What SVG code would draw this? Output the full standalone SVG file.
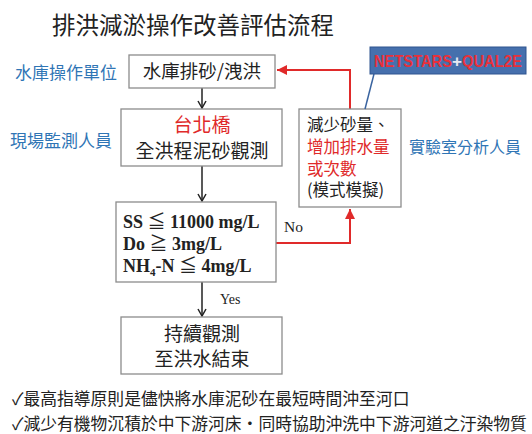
<svg xmlns="http://www.w3.org/2000/svg" width="532" height="434" viewBox="0 0 532 434">
<defs>
<style>
.cjk{font-family:"Noto Sans CJK TC","Noto Sans CJK SC",sans-serif;}
.box{fill:#fff;stroke:#8c8c8c;stroke-width:1.3;}
.blue{fill:#2f75b5;}
.red{fill:#e02a2a;}
.blk{fill:#222;}
.ser{font-family:"Liberation Serif",serif;font-weight:bold;fill:#222;}
.lbl{font-family:"Liberation Serif",serif;font-weight:normal;fill:#222;}
.sym{font-family:"Noto Sans CJK TC",sans-serif;font-weight:normal;}
.arr{stroke:#222;stroke-width:1.5;fill:none;}
.rarr{stroke:#e02a2a;stroke-width:2;fill:none;}
</style>
<marker id="ab" markerWidth="10" markerHeight="10" refX="8" refY="5" orient="auto" markerUnits="userSpaceOnUse">
<path d="M1,1 L8,5 L1,9" fill="none" stroke="#222" stroke-width="1.5"/>
</marker>
<marker id="ar" markerWidth="12" markerHeight="12" refX="10" refY="6" orient="auto" markerUnits="userSpaceOnUse">
<path d="M0,1 L10,6 L0,11 Z" fill="#e02a2a"/>
</marker>
</defs>
<rect width="532" height="434" fill="#fff"/>
<text class="cjk blk" x="52" y="34" font-size="23.5">排洪減淤操作改善評估流程</text>

<g id="connectors">
<line class="arr" x1="202" y1="88" x2="202" y2="108" marker-end="url(#ab)"/>
<line class="arr" x1="202" y1="166" x2="202" y2="201" marker-end="url(#ab)"/>
<line class="arr" x1="202" y1="282" x2="202" y2="316" marker-end="url(#ab)"/>
<polyline class="rarr" points="276,243 350,243 350,209" marker-end="url(#ar)"/>
<polyline class="rarr" points="350,109 350,70 277,70" marker-end="url(#ar)"/>
<text class="lbl" x="284" y="232" font-size="15.5">No</text>
<text class="lbl" x="220" y="304" font-size="14">Yes</text>
</g>

<g id="label-op"><text class="cjk blue" x="15" y="79" font-size="17">水庫操作單位</text></g>
<g id="label-field"><text class="cjk blue" x="10" y="147" font-size="17">現場監測人員</text></g>
<g id="label-lab"><text class="cjk blue" x="409" y="153" font-size="16">實驗室分析人員</text></g>

<g id="node-release">
<rect class="box" x="129" y="55" width="146" height="33"/>
<text class="cjk blk" x="202" y="78" font-size="18.5" text-anchor="middle">水庫排砂/洩洪</text>
</g>

<g id="node-monitor">
<rect class="box" x="121" y="109" width="161" height="57"/>
<text class="cjk red" x="202" y="132" font-size="19" text-anchor="middle">台北橋</text>
<text class="cjk blk" x="202" y="158" font-size="19" text-anchor="middle">全洪程泥砂觀測</text>
</g>

<g id="node-model">
<rect class="box" x="299" y="109" width="102" height="98"/>
<text class="cjk blk" x="307" y="131" font-size="16.5">減少砂量、</text>
<text class="cjk red" x="307" y="153" font-size="16.5">增加排水量</text>
<text class="cjk red" x="307" y="175" font-size="16.5">或次數</text>
<text class="cjk blk" x="307" y="196" font-size="16.5">(模式模擬)</text>
</g>

<g id="node-callout">
<line x1="374" y1="74" x2="365" y2="109" stroke="#3a64a0" stroke-width="1.5"/>
<rect x="370" y="47" width="156" height="27" fill="#4670ad" stroke="#2f5590" stroke-width="1"/>
<text x="374" y="67" font-family="'Liberation Sans',sans-serif" font-weight="bold" font-size="17" fill="#e8303a"><tspan textLength="78" lengthAdjust="spacingAndGlyphs">NETSTARS</tspan><tspan fill="#e6e8f2">+</tspan><tspan textLength="60" lengthAdjust="spacingAndGlyphs">QUAL2E</tspan></text>
</g>

<g id="node-criteria">
<rect class="box" x="116" y="202" width="160" height="80"/>
<text class="ser" x="123" y="228" font-size="18">SS <tspan class="sym">≦</tspan> 11000 mg/L</text>
<text class="ser" x="123" y="250" font-size="18">Do <tspan class="sym">≧</tspan> 3mg/L</text>
<text class="ser" x="123" y="272" font-size="18">NH<tspan font-size="11" dy="4">4</tspan><tspan dy="-4">-N </tspan><tspan class="sym">≦</tspan> 4mg/L</text>
</g>

<g id="node-end">
<rect class="box" x="121" y="317" width="161" height="57"/>
<text class="cjk blk" x="202" y="341" font-size="19" text-anchor="middle">持續觀測</text>
<text class="cjk blk" x="202" y="366" font-size="19" text-anchor="middle">至洪水結束</text>
</g>

<g id="notes">
<text class="cjk blk" x="12" y="405" font-size="16.8">✓最高指導原則是儘快將水庫泥砂在最短時間沖至河口</text>
<text class="cjk blk" x="12" y="430" font-size="16.8">✓減少有機物沉積於中下游河床‧同時協助沖洗中下游河道之汙染物質</text>
</g>
</svg>
